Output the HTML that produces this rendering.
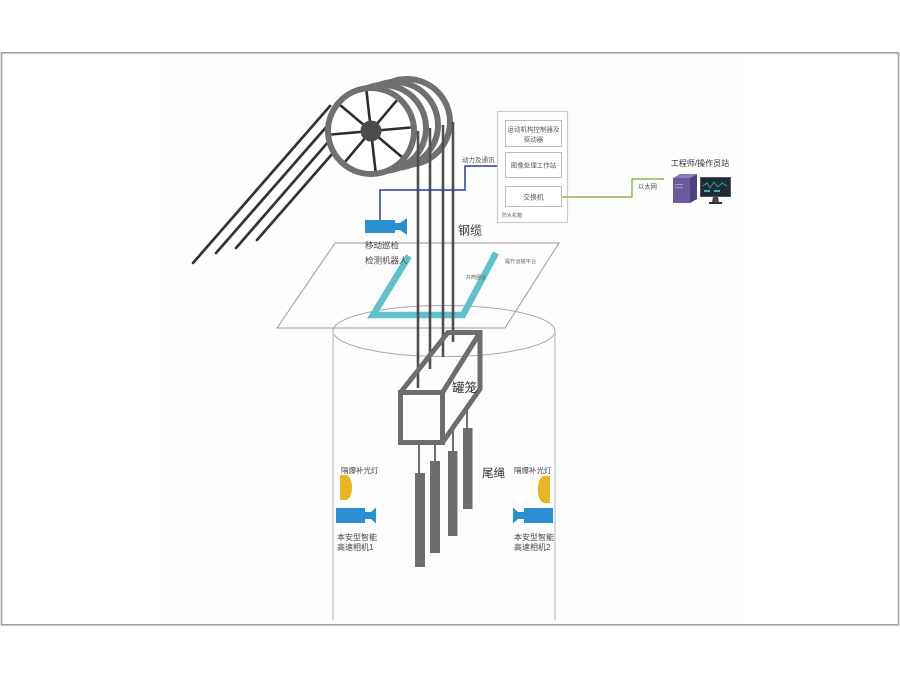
<!DOCTYPE html>
<html><head><meta charset="utf-8"><style>
html,body{margin:0;padding:0;background:#fff;}
svg{display:block;}
text{font-family:"Liberation Sans","Noto Sans CJK SC",sans-serif;}
</style></head><body>
<svg width="900" height="689" viewBox="0 0 900 689" xmlns="http://www.w3.org/2000/svg">
<rect x="0" y="0" width="900" height="689" fill="#ffffff"/>
<rect x="160" y="54" width="582" height="570" fill="#fdfdfd"/>
<rect x="1.5" y="52.8" width="897" height="572" fill="none" stroke="#a3a1a2" stroke-width="1.6"/>

<!-- shaft cylinder -->
<ellipse cx="444" cy="331" rx="111" ry="25.5" fill="none" stroke="#a9a9a9" stroke-width="1"/>
<line x1="333" y1="331" x2="333" y2="620" stroke="#c9ccd2" stroke-width="1.5"/>
<line x1="555" y1="331" x2="555" y2="620" stroke="#c9ccd2" stroke-width="1.5"/>

<!-- platform -->
<polygon points="335,243 559,243 505,328 277,328" fill="none" stroke="#9a9a9a" stroke-width="1"/>
<text x="505" y="263" font-size="5.2" fill="#666">提升运输平台</text>

<!-- cyan track -->
<polyline points="409,256 373,315 463,315 496,253" fill="none" stroke="#5ec1cc" stroke-width="6.5" stroke-linejoin="miter"/>
<text x="466" y="279" font-size="5" fill="#666">井筒圈道</text>

<!-- diagonal ropes -->
<g stroke="#333" stroke-width="2.7" stroke-linecap="round">
<line x1="193" y1="263" x2="330" y2="106"/>
<line x1="216" y1="253" x2="328" y2="125"/>
<line x1="236" y1="248" x2="329" y2="141"/>
<line x1="257" y1="240" x2="333" y2="153"/>
</g>

<!-- sheave rings -->
<g fill="#ffffff" stroke="#707070" stroke-width="6">
<circle cx="407" cy="122" r="43"/>
<circle cx="395" cy="125" r="43"/>
<circle cx="383" cy="128" r="43"/>
<circle cx="371" cy="131" r="43"/>
</g>
<g stroke="#2e2e2e" stroke-width="2.6">
<line x1="366.5" y1="91.2" x2="375.5" y2="170.8"/>
<line x1="396.7" y1="100.4" x2="345.3" y2="161.6"/>
<line x1="410.8" y1="127.5" x2="331.2" y2="134.5"/>
<line x1="401.6" y1="156.7" x2="340.4" y2="105.3"/>
</g>
<circle cx="371" cy="131" r="10.5" fill="#4b4b4b"/>

<!-- vertical ropes -->
<g stroke="#4f4f4f" stroke-width="2.6">
<line x1="418" y1="131" x2="418" y2="388"/>
<line x1="430" y1="128" x2="430" y2="369"/>
<line x1="443" y1="125" x2="443" y2="357"/>
<line x1="453" y1="122" x2="453" y2="342"/>
</g>

<!-- cage -->
<g fill="none" stroke="#6d6d6d" stroke-width="5" stroke-linejoin="miter">
<rect x="400.5" y="392.5" width="42" height="50"/>
<polyline points="400.5,392.5 448,332.5 480,332.5 480,389 442.5,442.5"/>
<line x1="442.5" y1="392.5" x2="480" y2="332.5"/>
</g>
<text x="452" y="392" font-size="12.5" fill="#333">罐笼</text>

<!-- tail ropes -->
<g fill="#6e6e6e">
<rect x="418" y="445" width="2" height="29"/>
<rect x="415" y="473" width="10" height="94"/>
<rect x="434" y="445" width="2" height="17"/>
<rect x="430" y="461" width="10" height="92"/>
<rect x="452" y="428" width="2" height="24"/>
<rect x="448" y="451" width="9.5" height="85"/>
<rect x="466" y="410" width="2" height="19"/>
<rect x="463" y="428" width="9.5" height="81"/>
</g>
<text x="482" y="477" font-size="11.5" fill="#333">尾绳</text>

<!-- robot camera + link -->
<polyline points="380,220 380,190 465,190 465,166 497,166" fill="none" stroke="#2b3aa2" stroke-width="1.5"/>
<text x="462" y="162" font-size="6.5" fill="#555">动力及通讯</text>
<rect x="365" y="220" width="30" height="13" fill="#2a8fd0"/>
<polygon points="395,223 400,223 407,218 407,235 400,230 395,230" fill="#2a8fd0"/>
<text x="365" y="248.5" font-size="8.5" fill="#444">移动巡检</text>
<text x="365" y="263.5" font-size="8.5" fill="#444">检测机器人</text>
<text x="458" y="234.5" font-size="12" fill="#333">钢缆</text>

<!-- cabinet -->
<rect x="497.5" y="111.5" width="70" height="111" fill="#fff" stroke="#cacaca" stroke-width="1.2"/>
<rect x="505.5" y="120.5" width="56" height="26" fill="#fff" stroke="#bdbdbd" stroke-width="1"/>
<rect x="505.5" y="152.5" width="56" height="25" fill="#fff" stroke="#bdbdbd" stroke-width="1"/>
<rect x="505.5" y="186.5" width="56" height="20" fill="#fff" stroke="#bdbdbd" stroke-width="1"/>
<text x="533.5" y="131.5" font-size="6.5" fill="#555" text-anchor="middle">运动机构控制器及</text>
<text x="533.5" y="141.5" font-size="6.5" fill="#555" text-anchor="middle">驱动器</text>
<text x="533.5" y="167.5" font-size="6.5" fill="#555" text-anchor="middle">图像处理工作站</text>
<text x="533.5" y="199.5" font-size="6.8" fill="#555" text-anchor="middle">交换机</text>
<text x="502" y="217" font-size="5" fill="#666">防水机箱</text>

<!-- ethernet -->
<polyline points="562,197 632,197 632,179 664,179" fill="none" stroke="#8cbc4a" stroke-width="1.5"/>
<text x="638" y="188.5" font-size="6.3" fill="#555">以太网</text>

<!-- workstation -->
<text x="700" y="166" font-size="8" fill="#333" text-anchor="middle">工程师/操作员站</text>
<polygon points="673,178 680,174 697,174 690,178" fill="#8a7cb8"/>
<rect x="673" y="178" width="17" height="25" fill="#6a5b9d"/>
<polygon points="690,178 697,174 697,199 690,203" fill="#4d4180"/>
<rect x="675" y="184" width="8" height="1.2" fill="#9a8fd0"/>
<rect x="675" y="187" width="8" height="1.2" fill="#9a8fd0"/>
<rect x="700.5" y="177.5" width="30" height="19" fill="#1d2c36" stroke="#555" stroke-width="1"/>
<polyline points="703,186 707,183 710,188 714,182 718,187 722,183 727,186" fill="none" stroke="#3fb6a8" stroke-width="0.8"/>
<rect x="704" y="190" width="6" height="2" fill="#3fb6a8"/>
<rect x="714" y="190" width="6" height="2" fill="#3fb6a8"/>
<polygon points="713,197 718,197 719,202 712,202" fill="#444"/>
<rect x="709" y="202" width="13" height="2" fill="#333"/>

<!-- left lamp & camera -->
<text x="341" y="473" font-size="7.5" fill="#444">隔爆补光灯</text>
<path d="M340,475 H346 Q352,477 352,487.5 Q352,498 346,500 H340 Z" fill="#e8b622"/>
<rect x="336" y="508" width="29" height="15" fill="#2a8fd0"/>
<polygon points="365,512 371,512 376,507.5 376,523.5 371,519 365,519" fill="#2a8fd0"/>
<text x="337" y="540" font-size="8" fill="#444">本安型智能</text>
<text x="337" y="550" font-size="8" fill="#444">高速相机1</text>

<!-- right lamp & camera -->
<text x="514" y="473" font-size="7.5" fill="#444">隔爆补光灯</text>
<path d="M550,476 H544 Q538,478 538,489.5 Q538,501 544,503 H550 Z" fill="#e8b622"/>
<rect x="524" y="508" width="29" height="15" fill="#2a8fd0"/>
<polygon points="524,512 518,512 513,507.5 513,523.5 518,519 524,519" fill="#2a8fd0"/>
<text x="514" y="540" font-size="8" fill="#444">本安型智能</text>
<text x="514" y="550" font-size="8" fill="#444">高速相机2</text>
</svg>
</body></html>
